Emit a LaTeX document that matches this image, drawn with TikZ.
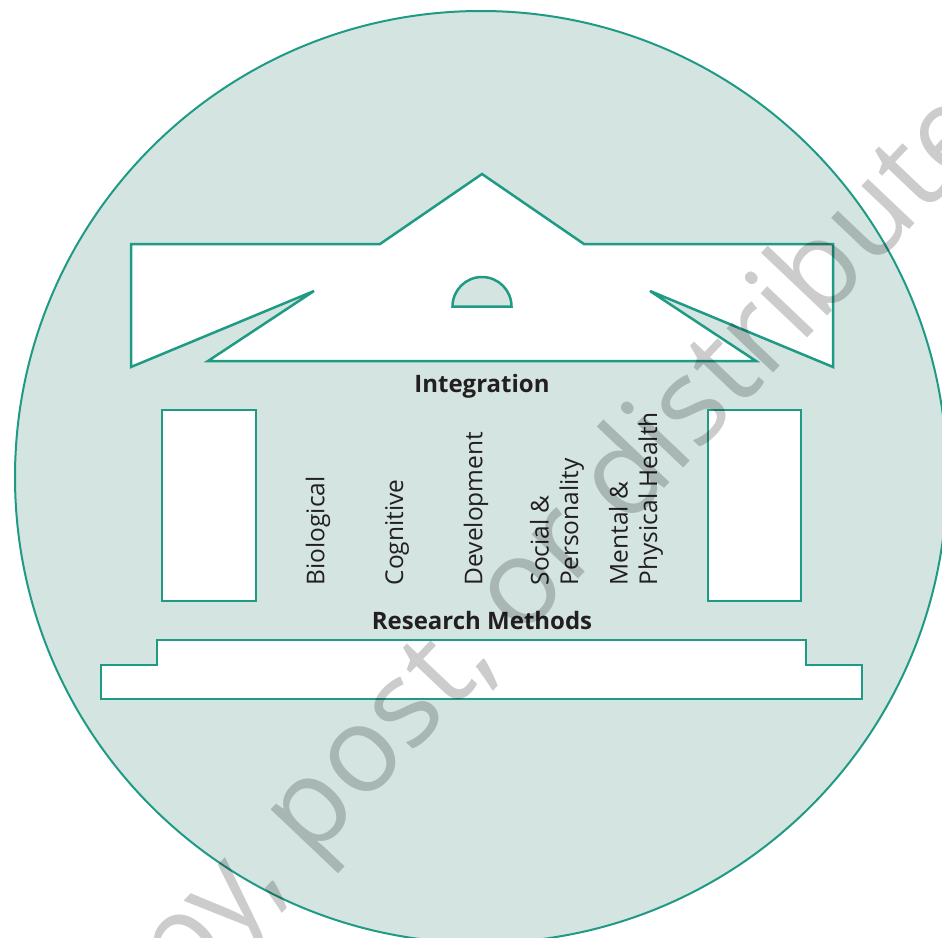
\documentclass[tikz,border=0pt]{standalone}
\usepackage{fontspec}
\setmainfont{Open Sans}
\definecolor{tealline}{HTML}{1F9A84}
\definecolor{palegreen}{HTML}{D4E5E1}
\definecolor{inktext}{HTML}{231F20}
\begin{document}
\begin{tikzpicture}[x=1pt,y=-1pt,
  outline/.style={draw=tealline, line width=2.5pt, line join=miter},
  lab/.style={font=\fontsize{24.5}{29.5}\selectfont, text=inktext, inner sep=0pt},
  head/.style={font=\fontsize{24}{29}\selectfont\bfseries, text=inktext, inner sep=0pt},
  vlab/.style={lab, rotate=90, anchor=west, align=left},
  wmark/.style={font=\fontsize{120}{120}\selectfont, text=black, text opacity=0.2, inner sep=0pt}]
\useasboundingbox (0,0) rectangle (942,937);
\fill[white] (0,0) rectangle (942,937);
% big circle
\draw[draw=tealline, fill=palegreen, line width=2pt] (481,477) circle[radius=466pt];
% roof
\draw[outline, fill=white] (131,244) -- (380,244) -- (482,174) -- (584,244) -- (833,244)
  -- (833,367) -- (650,291) -- (756,361) -- (208,361) -- (314,291) -- (131,367) -- cycle;
% dome
\draw[outline, fill=palegreen] (452.5,306.5) arc[start angle=180, end angle=0, radius=29.5pt] -- cycle;
% columns
\draw[outline, fill=white] (162,410) rectangle (256,601);
\draw[outline, fill=white] (708,410) rectangle (801,601);
% base
\draw[outline, fill=white] (157,640) -- (806,640) -- (806,665) -- (862,665) -- (862,699)
  -- (101,699) -- (101,665) -- (157,665) -- cycle;
% labels
\node[head] (integ) at (482,386.5) {Integration};
\node[head] (rm) at (482,620) {Research Methods};
\node[vlab] (bio) at (318,585.5) {Biological};
\node[vlab] (cog) at (397,585.5) {Cognitive};
\node[vlab] (dev) at (476,585.5) {Development};
\node[vlab] (soc) at (557,585.5) {Social \&\\Personality};
\node[vlab] (men) at (636,585.5) {Mental \&\\Physical Health};
% watermark
\node[wmark, rotate=46.5, anchor=base] (wm) at (545,614) {copy, post, or distribute};
\end{tikzpicture}
\end{document}
